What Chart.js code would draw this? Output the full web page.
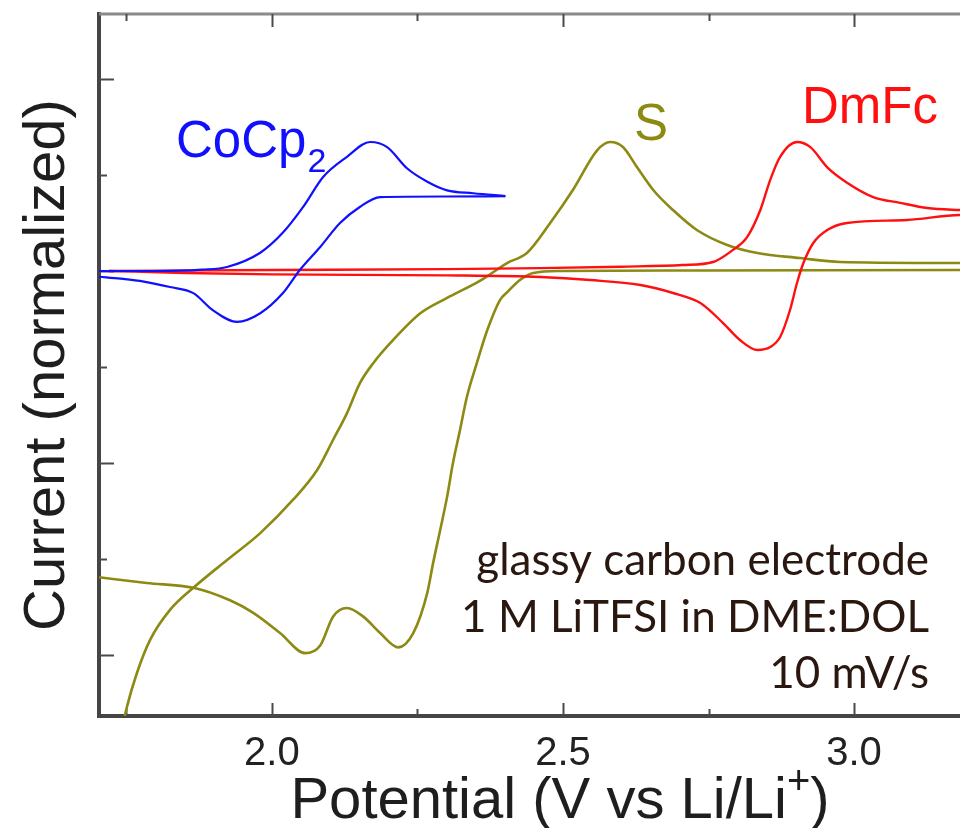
<!DOCTYPE html>
<html>
<head>
<meta charset="utf-8">
<script src="https://cdn.jsdelivr.net/npm/chart.js@4.4.1/dist/chart.umd.min.js"></script>
<style>
  html, body { margin: 0; padding: 0; background: #fff; overflow: hidden; }
  #wrap { width: 960px; height: 828px; }
</style>
</head>
<body>
<div id="wrap"><canvas id="cv"></canvas></div>
<script>
// potential (V vs Li/Li+) and normalized current
const cocpFwdV = [1.703, 1.80, 1.88, 1.923, 1.98, 2.019, 2.054, 2.088, 2.129, 2.169, 2.198, 2.232, 2.267, 2.301, 2.346, 2.401];
const cocpFwdI = [0.0, 0.0, 0.015, 0.042, 0.19, 0.40, 0.67, 0.98, 1.19, 1.344, 1.29, 1.07, 0.93, 0.84, 0.81, 0.78];
const cocpRevV = [2.401, 2.30, 2.186, 2.151, 2.117, 2.083, 2.048, 2.019, 1.98, 1.940, 1.899, 1.865, 1.825, 1.78, 1.74, 1.703];
const cocpRevI = [0.78, 0.776, 0.77, 0.667, 0.50, 0.25, 0.01, -0.23, -0.44, -0.53, -0.41, -0.23, -0.167, -0.11, -0.08, -0.06];

const dmfcFwdV = [1.72, 2.0, 2.3, 2.461, 2.6, 2.706, 2.758, 2.792, 2.816, 2.839, 2.856, 2.873, 2.902, 2.925, 2.954, 2.988, 3.033, 3.079, 3.126, 3.182, 3.25];
const dmfcFwdI = [0.0, 0.01, 0.02, 0.03, 0.045, 0.0625, 0.094, 0.22, 0.35, 0.635, 0.95, 1.19, 1.344, 1.29, 1.08, 0.92, 0.77, 0.71, 0.656, 0.635, 0.62];
const dmfcRevV = [3.25, 3.182, 3.091, 2.988, 2.954, 2.930, 2.913, 2.902, 2.890, 2.873, 2.856, 2.834, 2.804, 2.775, 2.736, 2.689, 2.633, 2.547, 2.461, 2.3, 2.0, 1.85, 1.72];
const dmfcRevI = [0.57, 0.583, 0.531, 0.50, 0.427, 0.292, 0.083, -0.125, -0.406, -0.6875, -0.792, -0.823, -0.719, -0.542, -0.333, -0.229, -0.146, -0.094, -0.0625, -0.045, -0.035, -0.02, 0.0];

// sulfur: branch with the two reduction dips, and branch with the oxidation peak
const sLowV = [1.703, 1.785, 1.865, 1.928, 1.968, 2.014, 2.057, 2.083, 2.105, 2.129, 2.157, 2.186, 2.217, 2.243, 2.267, 2.277, 2.289, 2.301, 2.311, 2.323, 2.335, 2.352, 2.370, 2.392, 2.406, 2.426, 2.449, 2.495, 2.736, 3.182, 3.25];
const sLowI = [-3.19, -3.25, -3.30, -3.43, -3.56, -3.77, -3.98, -3.90, -3.60, -3.51, -3.60, -3.77, -3.92, -3.77, -3.35, -3.04, -2.70, -2.35, -2.0, -1.66, -1.31, -0.96, -0.615, -0.30, -0.21, -0.094, -0.021, 0.0, 0.005, 0.01, 0.01];
const sHighV = [1.738, 1.751, 1.768, 1.791, 1.825, 1.865, 1.923, 1.980, 2.036, 2.078, 2.105, 2.129, 2.151, 2.174, 2.208, 2.255, 2.301, 2.358, 2.404, 2.438, 2.478, 2.517, 2.559, 2.581, 2.603, 2.627, 2.655, 2.689, 2.730, 2.782, 2.834, 2.907, 2.976, 3.182, 3.25];
const sHighI = [-4.9, -4.54, -4.19, -3.84, -3.53, -3.30, -3.01, -2.73, -2.385, -2.07, -1.76, -1.48, -1.17, -0.96, -0.72, -0.44, -0.28, -0.10, 0.083, 0.1875, 0.5, 0.844, 1.26, 1.344, 1.292, 1.083, 0.844, 0.635, 0.427, 0.271, 0.1875, 0.135, 0.094, 0.083, 0.078];

const xTicks = [1.75, 2.0, 2.25, 2.5, 2.75, 3.0];
const xTickLabels = ["", "2.0", "", "2.5", "", "3.0"];
const yTicks = [2, 1, 0, -1, -2, -3, -4];

const BLUE = "#1010ff";
const RED = "#ff1010";
const OLIVE = "#8c8a12";

function toPts(v, i) {
  return v.map((x, k) => ({ x: x, y: i[k] }));
}

function line(data, color, width) {
  return {
    data: data,
    showLine: true,
    borderColor: color,
    borderWidth: width,
    pointRadius: 0,
    cubicInterpolationMode: "monotone",
    fill: false
  };
}

const decor = {
  id: "decor",
  beforeDatasetsDraw(chart) {
    const { ctx, chartArea: a, scales: { x, y } } = chart;
    ctx.save();
    // thin grey top frame
    ctx.strokeStyle = "#8a8a8a";
    ctx.lineWidth = 3;
    ctx.beginPath();
    ctx.moveTo(a.left, a.top);
    ctx.lineTo(a.right, a.top);
    ctx.stroke();
    // ticks point inward
    ctx.strokeStyle = "#4a4a4a";
    ctx.lineWidth = 2;
    xTicks.forEach((v, k) => {
      const px = Math.round(x.getPixelForValue(v)) + 0.5;
      const len = xTickLabels[k] ? 13 : 7;
      ctx.beginPath();
      ctx.moveTo(px, a.bottom);
      ctx.lineTo(px, a.bottom - len);
      ctx.moveTo(px, a.top);
      ctx.lineTo(px, a.top + len);
      ctx.stroke();
    });
    yTicks.forEach(v => {
      const py = Math.round(y.getPixelForValue(v)) + 0.5;
      const len = v % 2 === 0 ? 15 : 8;
      ctx.beginPath();
      ctx.moveTo(a.left, py);
      ctx.lineTo(a.left + len, py);
      ctx.stroke();
    });
    ctx.restore();
  },
  afterDatasetsDraw(chart) {
    const { ctx } = chart;
    ctx.save();
    ctx.textBaseline = "alphabetic";
    ctx.textAlign = "left";

    ctx.font = '51px "Liberation Sans", Arial, sans-serif';
    ctx.fillStyle = BLUE;
    ctx.fillText("CoCp", 176, 157);
    const w = ctx.measureText("CoCp").width;
    ctx.font = '34px "Liberation Sans", Arial, sans-serif';
    ctx.fillText("2", 176 + w + 1, 172);

    ctx.font = '51px "Liberation Sans", Arial, sans-serif';
    ctx.fillStyle = OLIVE;
    ctx.fillText("S", 634, 140);
    ctx.fillStyle = RED;
    ctx.fillText("DmFc", 802, 123);

    ctx.font = '44px Lato, "Open Sans", sans-serif';
    ctx.fillStyle = "#2a1810";
    ctx.textAlign = "right";
    ctx.fillText("glassy carbon electrode", 929, 575);
    ctx.fillText("1 M LiTFSI in DME:DOL", 929, 632);
    ctx.fillText("10 mV/s", 929, 688);

    // x axis title with superscript
    const big = '58px "Liberation Sans", Arial, sans-serif';
    const small = '40px "Liberation Sans", Arial, sans-serif';
    const t1 = "Potential (V vs Li/Li", t2 = "+", t3 = ")";
    ctx.font = big;
    const w1 = ctx.measureText(t1).width, w3 = ctx.measureText(t3).width;
    ctx.font = small;
    const w2 = ctx.measureText(t2).width;
    let x0 = 560 - (w1 + w2 + w3) / 2;
    ctx.textAlign = "left";
    ctx.fillStyle = "#1e1e1e";
    ctx.font = big;
    ctx.fillText(t1, x0, 818);
    ctx.font = small;
    ctx.fillText(t2, x0 + w1, 794);
    ctx.font = big;
    ctx.fillText(t3, x0 + w1 + w2, 818);
    ctx.restore();
  }
};

new Chart(document.getElementById("cv"), {
  type: "scatter",
  data: {
    datasets: [
      line(toPts(cocpFwdV, cocpFwdI), BLUE, 2.2),
      line(toPts(cocpRevV, cocpRevI), BLUE, 2.2),
      line(toPts(dmfcFwdV, dmfcFwdI), RED, 2.4),
      line(toPts(dmfcRevV, dmfcRevI), RED, 2.4),
      line(toPts(sLowV, sLowI), OLIVE, 2.6),
      line(toPts(sHighV, sHighI), OLIVE, 2.6)
    ]
  },
  options: {
    responsive: true,
    maintainAspectRatio: false,
    animation: false,
    layout: { padding: { top: 14, right: 0, left: 0, bottom: 0 } },
    plugins: { legend: { display: false }, tooltip: { enabled: false } },
    scales: {
      x: {
        type: "linear",
        min: 1.703,
        max: 3.182,
        afterFit: s => { s.height = 112; },
        afterBuildTicks: s => { s.ticks = xTicks.map(v => ({ value: v })); },
        grid: { display: false, drawTicks: false },
        border: { display: true, width: 4, color: "#454545" },
        ticks: {
          padding: 14,
          color: "#222",
          font: { family: '"Liberation Sans", Arial, sans-serif', size: 40 },
          maxRotation: 0,
          autoSkip: false,
          callback: (v, k) => xTickLabels[k]
        }
      },
      y: {
        type: "linear",
        min: -4.635,
        max: 2.677,
        afterFit: s => { s.width = 99; },
        grid: { display: false, drawTicks: false },
        border: { display: true, width: 4, color: "#454545" },
        ticks: { display: false },
        title: {
          display: true,
          text: "Current (normalized)",
          color: "#1e1e1e",
          padding: { top: 19, bottom: 0 },
          font: { family: '"Liberation Sans", Arial, sans-serif', size: 58, lineHeight: 1 }
        }
      }
    }
  },
  plugins: [decor]
});
</script>
</body>
</html>
